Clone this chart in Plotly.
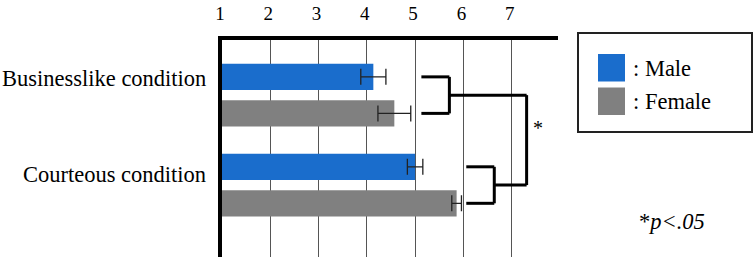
import plotly.graph_objects as go

# ---- data ----
conditions = ["Businesslike condition", "Courteous condition"]
series_names = ["Male", "Female"]
male_means = [4.135, 5.00]
male_err = [0.26, 0.16]
female_means = [4.57, 5.86]
female_err = [0.34, 0.10]
tick_vals = [1, 2, 3, 4, 5, 6, 7]
tick_text = ["1", "2", "3", "4", "5", "6", "7"]
sig_label = "*"
note_text = "*<i>p&lt;.05</i>"

# ---- style ----
W, H = 754, 260
L, R, T, B = 222, 196, 40, 3
XMIN, XMAX = 1, 7.96
YRANGE = [1.80, -0.613]
BLUE = "#1a6dcc"
GRAY = "#808080"
FONT = "Liberation Serif, Times New Roman, serif"

def px_x(px):
    return (px - L) / (W - L - R)

def px_y(py):
    return 1 - (py - T) / (H - T - B)

fig = go.Figure()
for name, means, errs, color in [
    (series_names[0], male_means, male_err, BLUE),
    (series_names[1], female_means, female_err, GRAY),
]:
    fig.add_trace(go.Bar(
        y=conditions, x=[m - XMIN for m in means], base=XMIN,
        orientation="h", name=name, marker_color=color,
        marker_line_width=0,
        error_x=dict(type="data", array=errs, color="#222", thickness=1.3, width=8),
        showlegend=False,
    ))

fig.update_layout(
    width=W, height=H,
    margin=dict(l=L, r=R, t=T, b=B, autoexpand=False),
    plot_bgcolor="white", paper_bgcolor="white",
    barmode="group", bargap=0.188, bargroupgap=0.28,
    font=dict(family=FONT, color="black"),
    xaxis=dict(
        side="top", range=[XMIN, XMAX], tickvals=tick_vals, ticktext=tick_text,
        showgrid=True, gridcolor="#555", gridwidth=1, zeroline=False,
        showline=True, linecolor="black", linewidth=3.5, automargin=False,
        ticks="", tickfont=dict(size=19, family=FONT), ticklabelstandoff=9,
        ticklabelshift=-2,
    ),
    yaxis=dict(
        type="category", categoryarray=conditions, range=YRANGE,
        showticklabels=False, ticks="", showgrid=False, zeroline=False,
        showline=True, linecolor="black", linewidth=3.5, automargin=False,
    ),
)

# category labels
label_shift = [17, 11]
for cat, ys in zip(conditions, label_shift):
    fig.add_annotation(text=cat, xref="paper", yref="y", x=px_x(208), y=cat,
                       xanchor="right", yanchor="middle", yshift=ys,
                       showarrow=False, font=dict(size=22.5, family=FONT))

# significance brackets (in data coordinates)
off = 0.203
lw = 3
def bracket(cat_idx, x_arm, x_vert):
    yc = cat_idx
    for y in (yc - off, yc + off):
        fig.add_shape(type="line", xref="x", yref="y", x0=x_arm, x1=x_vert, y0=y, y1=y,
                      line=dict(color="black", width=lw))
    fig.add_shape(type="line", xref="x", yref="y", x0=x_vert, x1=x_vert, y0=yc - off, y1=yc + off,
                  line=dict(color="black", width=lw))

bracket(0, 5.13, 5.71)
bracket(1, 6.06, 6.64)
XJ = 7.31
fig.add_shape(type="line", xref="x", yref="y", x0=5.71, x1=XJ, y0=0, y1=0, line=dict(color="black", width=lw))
fig.add_shape(type="line", xref="x", yref="y", x0=6.64, x1=XJ, y0=1, y1=1, line=dict(color="black", width=lw))
fig.add_shape(type="line", xref="x", yref="y", x0=XJ, x1=XJ, y0=0, y1=1, line=dict(color="black", width=lw))
fig.add_annotation(text=sig_label, xref="x", yref="y", x=7.55, y=0.36, showarrow=False,
                   font=dict(size=20, family=FONT))

# legend (drawn manually)
fig.add_shape(type="rect", xref="paper", yref="paper", x0=px_x(578), x1=px_x(752),
              y0=px_y(33), y1=px_y(132), line=dict(color="#222", width=2), fillcolor="white",
              layer="below")
for i, (name, color) in enumerate(zip(series_names, [BLUE, GRAY])):
    top = 54 + i * 33.5
    fig.add_shape(type="rect", xref="paper", yref="paper", x0=px_x(598), x1=px_x(625),
                  y0=px_y(top), y1=px_y(top + 27.5), line=dict(width=0), fillcolor=color)
    fig.add_annotation(text=": " + name, xref="paper", yref="paper", x=px_x(631),
                       y=px_y(top + 14), xanchor="left", yanchor="middle", showarrow=False,
                       font=dict(size=22.5, family=FONT))

fig.add_annotation(text=note_text, xref="paper", yref="paper", x=px_x(672), y=px_y(221),
                   xanchor="center", yanchor="middle", showarrow=False,
                   font=dict(size=22.5, family=FONT))

fig.write_html("out.html", config={"displayModeBar": False},
               post_script="document.body.style.margin='0';document.body.style.overflow='hidden';")
